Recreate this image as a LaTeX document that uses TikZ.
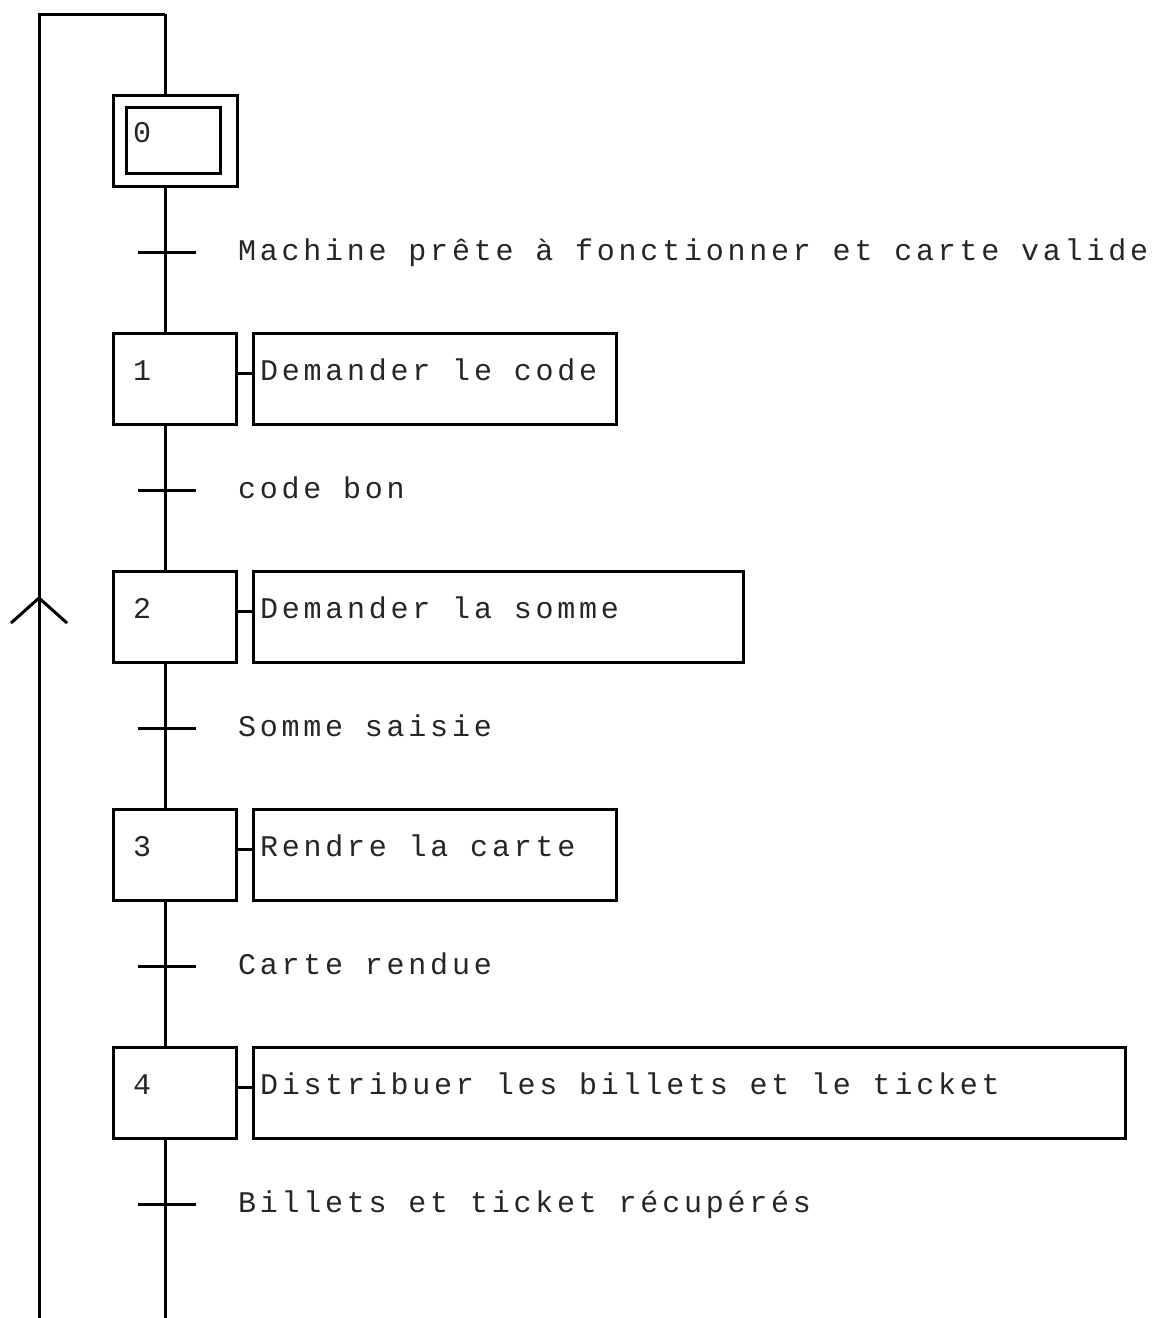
\documentclass[tikz,border=0pt]{standalone}
\usepackage{fontspec}
\newfontfamily\grafmono[LetterSpace=12.6]{Liberation Mono}
\begin{document}
\begin{tikzpicture}[x=0.5pt,y=-0.5pt,line width=1.5pt,
  every node/.style={inner sep=0pt,outer sep=0pt},
  stepbox/.style={draw,minimum width=61.5pt,minimum height=45.5pt},
  actbox/.style={draw,anchor=west,minimum height=45.5pt},
  gtext/.style={anchor=base west,text=black!85,font=\grafmono\fontsize{15pt}{17pt}\selectfont},
  gnum/.style={anchor=base,text=black!85,font=\grafmono\fontsize{15pt}{17pt}\selectfont},
  tick/.style={line cap=butt}]
\useasboundingbox (0,0) rectangle (1154,1318);

% rail coordinates
\coordinate (railtop) at (165,14);
\coordinate (loopTop) at (39,14);
\coordinate (railend) at (165,1318);
\coordinate (loopEnd) at (39,1318);

% initial step 0
\node[draw,minimum width=62pt,minimum height=45.5pt] (s0) at (175,140.5) {};
\node[draw,minimum width=47.25pt,minimum height=32.75pt] (s0in) at (173.25,140.25) {};
\node[gnum] (n0) at (142,142) {0};

% steps 1..4 with their actions
\node[stepbox] (s1) at (175,378.5) {};
\node[stepbox] (s2) at (175,616.5) {};
\node[stepbox] (s3) at (175,854.5) {};
\node[stepbox] (s4) at (175,1092.5) {};
\node[gnum] (n1) at (142,380) {1};
\node[gnum] (n2) at (142,618) {2};
\node[gnum] (n3) at (142,856) {3};
\node[gnum] (n4) at (142,1094) {4};

\node[actbox,minimum width=181.5pt] (a1) at (253.5,378.5) {};
\node[actbox,minimum width=245pt] (a2) at (253.5,616.5) {};
\node[actbox,minimum width=181.5pt] (a3) at (253.5,854.5) {};
\node[actbox,minimum width=436pt] (a4) at (253.5,1092.5) {};
\node[gtext] (l1) at (260,380) {Demander le code};
\node[gtext] (l2) at (260,618) {Demander la somme};
\node[gtext] (l3) at (260,856) {Rendre la carte};
\node[gtext] (l4) at (260,1094) {Distribuer les billets et le ticket};

\foreach \s in {1,2,3,4}
  \draw ([yshift=2.75pt]s\s.east) -- ([yshift=2.75pt]a\s.west);

% links between steps
\draw (railtop) -- (s0.north -| railtop);
\draw (s0.south -| railtop) -- (s1.north -| railtop);
\draw (s1.south -| railtop) -- (s2.north -| railtop);
\draw (s2.south -| railtop) -- (s3.north -| railtop);
\draw (s3.south -| railtop) -- (s4.north -| railtop);
\draw (s4.south -| railtop) -- (railend);

% transitions
\foreach \y/\name in {252/t0,490/t1,728/t2,966/t3,1204/t4}{
  \coordinate (\name) at (165,\y);
  \draw[tick] ([xshift=-13.5pt]\name) -- ([xshift=15.5pt]\name);
}
\node[gtext] (c0) at (238,260) {Machine prête à fonctionner et carte valide};
\node[gtext] (c1) at (238,498) {code bon};
\node[gtext] (c2) at (238,736) {Somme saisie};
\node[gtext] (c3) at (238,974) {Carte rendue};
\node[gtext] (c4) at (238,1212) {Billets et ticket récupérés};

% return loop with upward direction mark
\draw (loopEnd) -- (loopTop) -- (railtop);
\coordinate (arrowtip) at (39,598);
\draw ([shift={(-14pt,-12.5pt)}]arrowtip) -- (arrowtip) -- ([shift={(14pt,-12.5pt)}]arrowtip);
\end{tikzpicture}
\end{document}
